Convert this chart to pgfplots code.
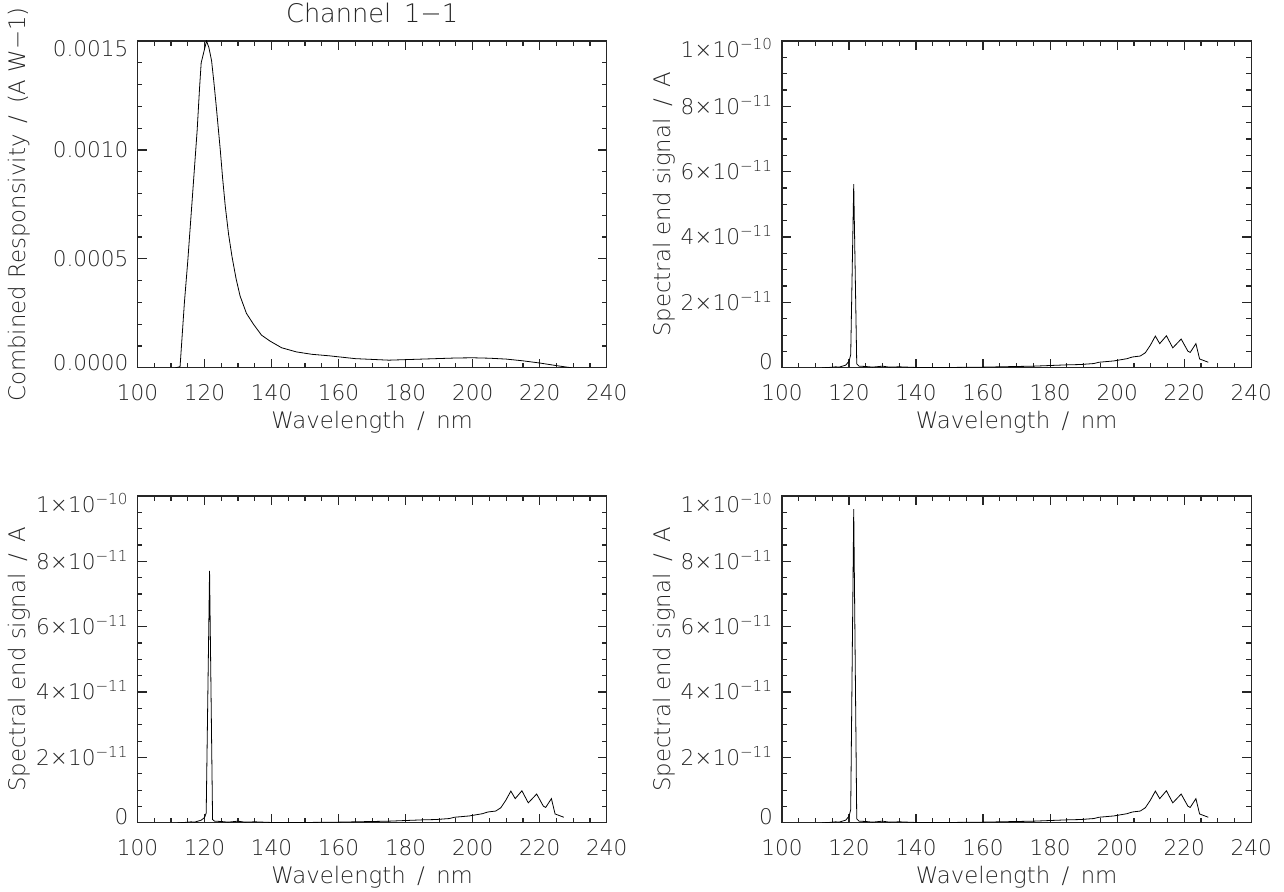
\documentclass[border=0pt]{standalone}
\usepackage{fontspec}
\setmainfont{DejaVu Sans}[UprightFont=* ExtraLight]
\usepackage{pgfplots}
\pgfplotsset{compat=1.18}

\pgfplotsset{
  idl/.style={
    scale only axis, width=234.6pt, height=163.4pt,
    axis line style={black!85, line width=0.6pt},
    tick style={black!85, line width=0.6pt},
    tick align=inside, tick pos=both,
    major tick length=4.5pt, minor tick length=2.4pt,
    xmin=100, xmax=240,
    xtick={100,120,...,240}, minor x tick num=3,
    xticklabels={100,120,140,160,180,200,220,240},
    every tick label/.append style={font=\fontsize{10.8}{13}\selectfont, text=black!85},
    xticklabel style={yshift=-5pt},
    yticklabel style={anchor=base east, yshift=-3.9pt, xshift=-1pt},
    xlabel={Wavelength\enspace/\enspace nm},
    every axis x label/.style={at={(axis description cs:0.5,-0.165)}, anchor=center,
      font=\fontsize{11.4}{13}\selectfont, text=black!85},
    every axis y label/.style={at={(axis description cs:-0.252,0.5)}, anchor=center, rotate=90,
      font=\fontsize{11.4}{13}\selectfont, text=black!85},
    cycle list={{black, line width=0.6pt}},
    no markers,
  },
  sig/.style={idl, ymin=0, ymax=10, ytick={0,2,...,10}, minor y tick num=3,
    yticklabels={\raisebox{2.9pt}{0},
      2×10\textsuperscript{−11}, 4×10\textsuperscript{−11},
      6×10\textsuperscript{−11}, 8×10\textsuperscript{−11},
      \raisebox{-4.5pt}{1×10\textsuperscript{−10}}},
    ylabel={Spectral end signal\enspace/\enspace A}},
}

% spectral end signal, units of 1e-11 A
\begin{document}
\begin{tikzpicture}
\path[use as bounding box] (0,0) rectangle (642pt,-446pt);

\begin{axis}[idl, at={(68.75pt,-20.5pt)}, anchor=north west,
  ymin=0, ymax=0.0015, ytick={0,0.0005,0.001,0.0015}, minor y tick num=4,
  scaled y ticks=false,
  yticklabels={\raisebox{2.5pt}{0.0000},0.0005,0.0010,\raisebox{-4pt}{0.0015}},
  ylabel={Combined Responsivity\enspace/\enspace(A W−1)},
  title={Channel\enspace 1−1},
  every axis title/.style={at={(axis description cs:0.5,1.085)}, anchor=center,
    font=\fontsize{12.8}{14}\selectfont, text=black!85}]
\addplot coordinates {
(111.3,0) (112.7,0.000005) (114,0.0003) (115,0.00049) (116.5,0.00081) (117.8,0.00109)
(118.5,0.00128) (119.0,0.0014) (119.8,0.00145) (120.6,0.0015) (121.3,0.00147)
(122.1,0.00141) (122.8,0.00131) (123.5,0.0012) (124.7,0.001) (125.4,0.00087)
(126.2,0.00074) (127.2,0.00061) (128.2,0.00051) (129.4,0.00041) (130.6,0.00033)
(132.5,0.00025) (134.6,0.0002) (137,0.00015) (139.5,0.000123) (143,0.000092)
(147.4,0.000073) (152,0.000062) (157.2,0.000055) (165,0.000042) (175,0.000035)
(185,0.00004) (195,0.000045) (200,0.000046) (205,0.000044) (210,0.00004)
(215,0.000032) (220,0.000022) (225,0.00001) (229.5,0)
};
\end{axis}

\begin{axis}[sig, at={(391pt,-20.5pt)}, anchor=north west]
\addplot coordinates {
(112,0) (114,0.01) (116,0.03) (117,0.02) (118,0.05) (119,0.08) (120,0.2) (120.5,0.4)
(121.4,5.62) (122.3,0.12) (123,0.05) (125,0.04) (127,0.02) (130,0.05) (132,0.02)
(135,0.03) (140,0.01) (150,0.01) (160,0.02) (165,0.03) (170,0.04) (175,0.05)
(180,0.07) (185,0.09) (189,0.10) (193,0.13) (194.6,0.17) (199,0.21) (203,0.28)
(204.5,0.33) (206.9,0.36) (208.4,0.46) (209.9,0.69) (211.4,0.97) (212.7,0.74)
(214.7,0.98) (216.6,0.61) (219.1,0.88) (221.1,0.51) (221.8,0.47) (223.5,0.74)
(224.6,0.27) (227.2,0.17)
};
\end{axis}

\begin{axis}[sig, at={(68.75pt,-248pt)}, anchor=north west]
\addplot coordinates {
(112,0) (114,0.01) (116,0.03) (117,0.02) (118,0.05) (119,0.08) (120,0.16) (120.5,0.3)
(121.5,7.71) (122.4,0.1) (123,0.05) (125,0.04) (127,0.02) (130,0.05) (132,0.02)
(135,0.03) (140,0.01) (150,0.01) (160,0.02) (165,0.03) (170,0.04) (175,0.05)
(180,0.07) (185,0.09) (189,0.10) (193,0.13) (194.6,0.17) (199,0.21) (203,0.28)
(204.5,0.33) (206.9,0.36) (208.4,0.46) (209.9,0.69) (211.4,0.97) (212.7,0.74)
(214.7,0.98) (216.6,0.61) (219.1,0.88) (221.1,0.51) (221.8,0.47) (223.5,0.74)
(224.6,0.27) (227.2,0.17)
};
\end{axis}

\begin{axis}[sig, at={(391pt,-248pt)}, anchor=north west]
\addplot coordinates {
(112,0) (114,0.01) (116,0.03) (117,0.02) (118,0.05) (119,0.08) (120,0.2) (120.5,0.4)
(121.4,9.6) (122.3,0.12) (123,0.05) (125,0.04) (127,0.02) (130,0.05) (132,0.02)
(135,0.03) (140,0.01) (150,0.01) (160,0.02) (165,0.03) (170,0.04) (175,0.05)
(180,0.07) (185,0.09) (189,0.10) (193,0.13) (194.6,0.17) (199,0.21) (203,0.28)
(204.5,0.33) (206.9,0.36) (208.4,0.46) (209.9,0.69) (211.4,0.97) (212.7,0.74)
(214.7,0.98) (216.6,0.61) (219.1,0.88) (221.1,0.51) (221.8,0.47) (223.5,0.74)
(224.6,0.27) (227.2,0.17)
};
\end{axis}
\end{tikzpicture}
\end{document}
